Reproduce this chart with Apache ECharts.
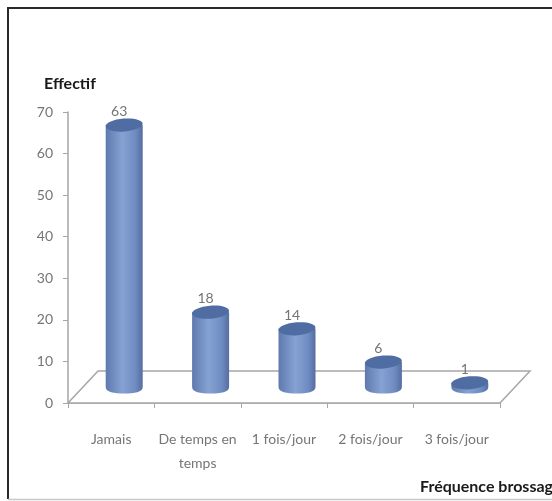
<!DOCTYPE html>
<html>
<head>
<meta charset="utf-8">
<style>
  html, body { margin: 0; padding: 0; background: #fff; }
  #chart { width: 552px; height: 501px; filter: blur(0.5px); }
</style>
<script src="https://cdn.jsdelivr.net/npm/echarts@6/dist/echarts.min.js"></script>
</head>
<body>
<div id="chart"></div>
<script>
const categories = ['Jamais', 'De temps en\ntemps', '1 fois/jour', '2 fois/jour', '3 fois/jour']
const values = [63, 18, 14, 6, 1]
const yTicks = { min: 0, max: 70, interval: 10 }

const FONT = 'Lato, sans-serif'
const GREY = '#a6a6a6'
const TEXT_GREY = '#757575'
// fake 3d: the bars sit back from the axis on a floor
const DEPTH_X = 13
const DEPTH_Y = 16
const FLOOR_X = 30
const FLOOR_Y = 32
const BAR_W = 37
const RY = 6.5

const chart = echarts.init(document.getElementById('chart'))

function renderFloor(params, api) {
  const r = params.coordSys
  const pts = [
    [r.x, r.y + r.height],
    [r.x + FLOOR_X, r.y + r.height - FLOOR_Y],
    [r.x + r.width + FLOOR_X, r.y + r.height - FLOOR_Y],
    [r.x + r.width, r.y + r.height]
  ]
  return { type: 'polygon', shape: { points: pts }, style: { fill: '#fff', stroke: GREY, lineWidth: 1.5 }, silent: true }
}

function renderCylinder(params, api) {
  const idx = api.value(0)
  const val = api.value(1)
  const top = api.coord([idx, val])
  const base = api.coord([idx, 0])
  const cx = top[0] + DEPTH_X
  const yTop = top[1] - DEPTH_Y
  const yBase = base[1] - DEPTH_Y
  const hw = BAR_W / 2
  const body = new echarts.graphic.LinearGradient(0, 0, 1, 0, [
    { offset: 0, color: '#5f79ad' },
    { offset: 0.45, color: '#86a2d3' },
    { offset: 0.8, color: '#6f8cc2' },
    { offset: 1, color: '#566d9f' }
  ])
  const k = 0.5523
  const path = [
    `M${cx - hw},${yTop}`,
    `L${cx - hw},${yBase}`,
    `C${cx - hw},${yBase + RY * k * 1.4} ${cx - hw * k},${yBase + RY} ${cx},${yBase + RY}`,
    `C${cx + hw * k},${yBase + RY} ${cx + hw},${yBase + RY * k * 1.4} ${cx + hw},${yBase}`,
    `L${cx + hw},${yTop}`,
    'Z'
  ].join(' ')
  return {
    type: 'group',
    children: [
      { type: 'path', shape: { pathData: path, layout: 'cover', x: cx - hw, y: yTop, width: BAR_W, height: yBase + RY - yTop }, style: { fill: body } },
      { type: 'ellipse', shape: { cx, cy: yTop, rx: hw, ry: RY }, originX: cx, originY: yTop, rotation: 0.08, style: { fill: '#4f6da3' } },
      { type: 'text', style: { text: String(val), x: cx - 5, y: yTop - RY, align: 'center', verticalAlign: 'bottom', font: '14px ' + FONT, fill: TEXT_GREY } }
    ]
  }
}

chart.setOption({
  animation: false,
  backgroundColor: '#fff',
  title: [
    { text: 'Effectif', left: 39, top: 71, textStyle: { fontFamily: FONT, fontSize: 16, fontWeight: 'bold', color: '#1a1a1a' } },
    { text: 'Fréquence brossage', left: 415, top: 474, textStyle: { fontFamily: FONT, fontSize: 16, fontWeight: 'bold', color: '#1a1a1a' } }
  ],
  graphic: [
    // frame of the scan: no right edge, bottom edge is faint
    { type: 'polyline', silent: true, z: -1, shape: { points: [[8, 499], [8, 8], [552, 8]] }, style: { fill: 'none', stroke: '#2a2a2a', lineWidth: 2 } },
    { type: 'line', silent: true, z: -1, shape: { x1: 8, y1: 499.5, x2: 552, y2: 499.5 }, style: { stroke: '#c8c8c8', lineWidth: 1.5 } }
  ],
  grid: { left: 68, right: 52, top: 112, bottom: 98, containLabel: false },
  xAxis: {
    type: 'category',
    data: categories,
    axisLine: { lineStyle: { color: GREY, width: 1.5 } },
    axisTick: { show: true, alignWithLabel: false, length: 5, lineStyle: { color: GREY } },
    axisLabel: { margin: 24, fontFamily: FONT, fontSize: 14, lineHeight: 24, color: TEXT_GREY, interval: 0 }
  },
  yAxis: {
    type: 'value',
    min: yTicks.min,
    max: yTicks.max,
    interval: yTicks.interval,
    axisLine: { show: true, lineStyle: { color: GREY, width: 1.5 } },
    axisTick: { show: true, length: 5, lineStyle: { color: GREY } },
    axisLabel: { margin: 15, fontFamily: FONT, fontSize: 14, color: TEXT_GREY },
    splitLine: { show: false }
  },
  series: [
    { type: 'custom', silent: true, z: 1, renderItem: renderFloor, data: [0], clip: false },
    { type: 'custom', z: 2, renderItem: renderCylinder, clip: false, encode: { x: 0, y: 1 }, data: values.map((v, i) => [i, v]) }
  ]
})
</script>
</body>
</html>
